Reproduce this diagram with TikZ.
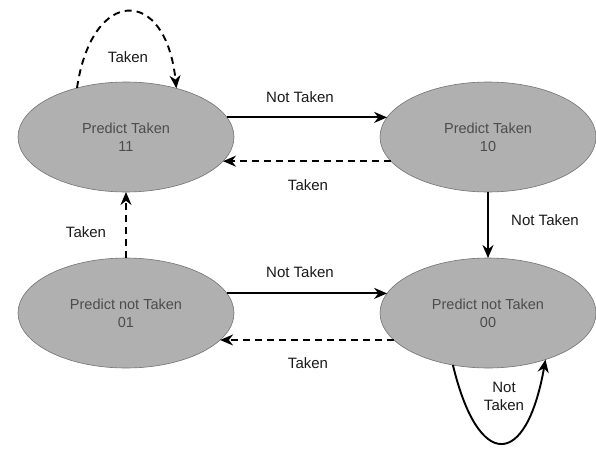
\documentclass[tikz,border=0pt]{standalone}
\usepackage{fontspec}
\setmainfont{Liberation Sans}
\usetikzlibrary{arrows.meta,shapes.geometric}
\begin{document}
\begin{tikzpicture}[x=1pt,y=-1pt,
  state/.style={ellipse, draw=black!55, line width=0.6pt, fill=black!31,
    minimum width=216pt, minimum height=110pt, inner sep=0pt, outer sep=0pt,
    align=center, text=black!70, font=\fontsize{14.5}{18}\selectfont},
  lbl/.style={font=\fontsize{15}{18}\selectfont, text=black!90, inner sep=1pt, align=center},
  arr/.style={line width=1.9pt, -{Stealth[length=13pt,width=11pt]}},
  darr/.style={arr, dash pattern=on 7pt off 5pt}]
\useasboundingbox (0,0) rectangle (596,450);
\node[state] (n11) at (126,137) {Predict Taken\\11};
\node[state] (n10) at (488,137) {Predict Taken\\10};
\node[state] (n01) at (126,313) {Predict not Taken\\01};
\node[state] (n00) at (488,313) {Predict not Taken\\00};
% top pair
\draw[arr] (n11.11) -- (n10.169);
\draw[darr] (n10.194) -- (n11.346);
% bottom pair
\draw[arr] (n01.11) -- (n00.169);
\draw[darr] (n00.196) -- (n01.344);
% verticals
\draw[arr] (n10.south) -- (n00.north);
\draw[darr] (n01.north) -- (n11.south);
% self loops
\draw[darr] (n11.135) .. controls (92,-14) and (166,-14) .. (n11.44);
\draw[arr] (n00.236) .. controls (478,470) and (526,470) .. (n00.321);
% labels
\node[lbl] (l1) at (300,97) {Not Taken};
\node[lbl] (l2) at (308,185) {Taken};
\node[lbl] (l3) at (545,220) {Not Taken};
\node[lbl] (l4) at (300,272) {Not Taken};
\node[lbl] (l5) at (308,363) {Taken};
\node[lbl] (l6) at (86,232) {Taken};
\node[lbl] (l7) at (128,57) {Taken};
\node[lbl] (l8) at (504,396) {Not\\Taken};
\end{tikzpicture}
\end{document}
